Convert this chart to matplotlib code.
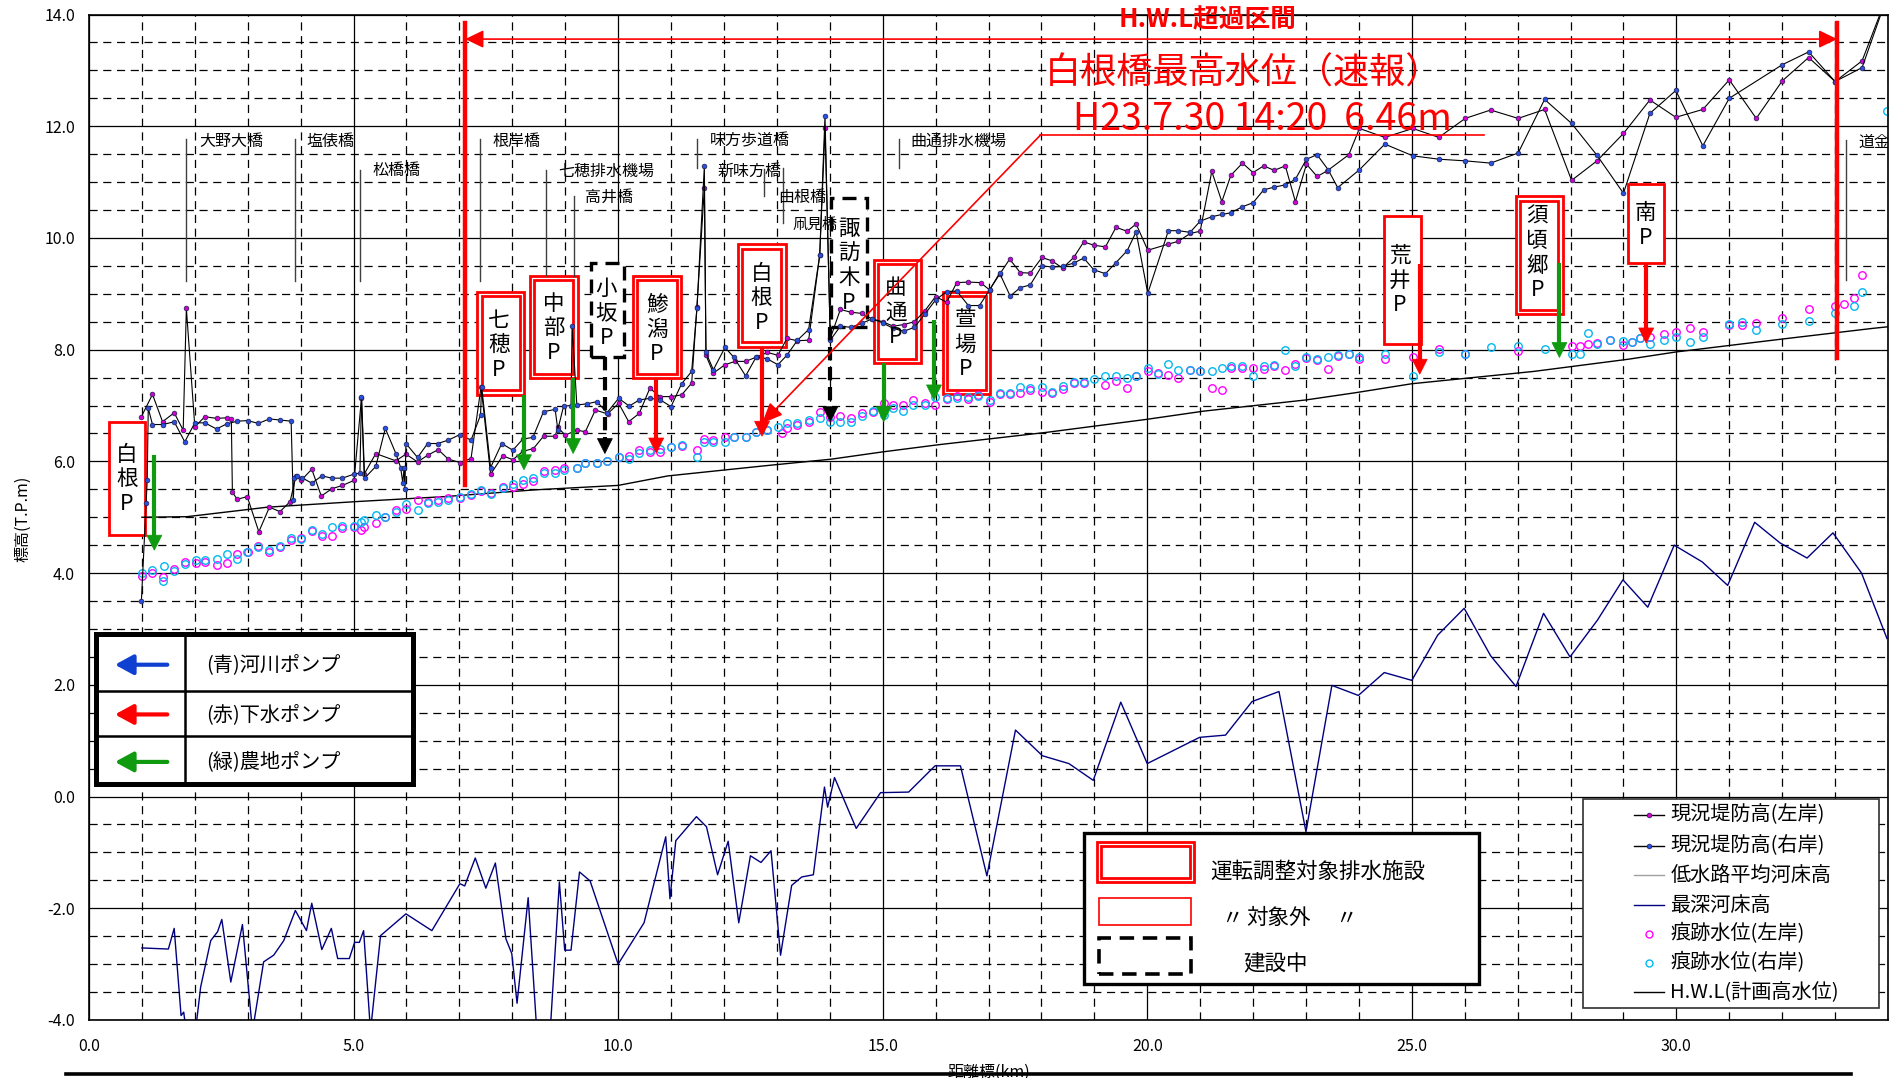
import matplotlib
matplotlib.use("Agg")
import matplotlib.pyplot as plt
from matplotlib.patches import Rectangle, Polygon
from matplotlib.lines import Line2D
import numpy as np

plt.rcParams['font.family'] = ['Noto Sans CJK JP', 'DejaVu Sans']
plt.rcParams['axes.unicode_minus'] = False

# ---------------- data ----------------
left_km = [0.99, 1.20, 1.39, 1.61, 1.78, 1.84, 2.00, 2.19, 2.41, 2.60, 2.69, 2.71, 2.80, 2.99, 3.21, 3.41,
           3.61, 3.80, 3.91, 4.01, 4.21, 4.39, 4.59, 4.79, 5.01, 5.15, 5.20, 5.42, 5.80, 5.99, 6.21, 6.40,
           6.60, 6.79, 7.01, 7.22, 7.41, 7.59, 7.82, 8.01, 8.20, 8.40, 8.59, 8.81, 8.86, 9.00, 9.22, 9.38,
           9.57, 9.80, 10.01, 10.20, 10.40, 10.60, 10.79, 11.00, 11.20, 11.39, 11.49, 11.63, 11.66, 11.80,
           12.02, 12.21, 12.41, 12.62, 12.82, 13.02, 13.19, 13.39, 13.60, 13.81, 13.91, 14.01, 14.20, 14.40,
           14.60, 14.80, 15.00, 15.20, 15.40, 15.60, 15.80, 16.00, 16.21, 16.40, 16.62, 16.85, 17.02, 17.21,
           17.40, 17.60, 17.79, 18.01, 18.20, 18.40, 18.61, 18.80, 18.99, 19.21, 19.41, 19.62, 19.79, 20.01,
           20.40, 20.59, 20.81, 21.00, 21.22, 21.41, 21.58, 21.80, 22.00, 22.20, 22.40, 22.61, 22.80, 23.01,
           23.21, 23.40, 23.81, 24.01, 24.49, 25.02, 25.51, 26.01, 26.49, 27.01, 27.51, 28.02, 28.50, 29.00,
           29.50, 29.99, 30.50, 31.00, 31.51, 32.00, 32.50, 33.00, 33.51, 34.05]
left_h = [6.80, 7.20, 6.71, 6.87, 6.56, 8.74, 6.62, 6.80, 6.77, 6.78, 6.75, 5.45, 5.32, 5.37, 4.74, 5.18,
          5.10, 5.28, 5.73, 5.66, 5.86, 5.38, 5.51, 5.57, 5.66, 7.14, 5.77, 6.14, 6.01, 6.13, 5.99, 6.11,
          6.21, 6.04, 5.98, 6.05, 7.34, 5.77, 6.10, 6.03, 6.18, 6.23, 6.45, 6.45, 6.61, 6.47, 6.56, 6.53,
          6.92, 6.85, 7.04, 6.71, 6.86, 7.31, 7.16, 7.16, 7.19, 7.40, 8.77, 10.90, 7.90, 7.58,
          7.73, 7.79, 7.79, 7.87, 7.95, 7.90, 8.20, 8.16, 8.17, 9.69, 11.96, 8.20, 8.72, 8.67,
          8.65, 8.55, 8.50, 8.42, 8.45, 8.50, 8.70, 8.95, 8.85, 9.20, 9.21, 9.20, 9.07, 9.35,
          9.62, 9.38, 9.37, 9.65, 9.59, 9.46, 9.65, 9.93, 9.87, 9.84, 10.19, 10.12, 10.25, 9.78,
          9.89, 9.94, 10.08, 10.12, 11.19, 10.65, 11.12, 11.34, 11.17, 11.29, 11.21, 11.29, 10.65, 11.32,
          11.10, 11.20, 11.49, 11.96, 11.80, 11.96, 11.80, 12.14, 12.29, 12.14, 12.30, 11.03, 11.38, 11.87,
          12.47, 12.16, 12.30, 12.83, 12.14, 12.81, 13.23, 12.80, 13.17, 14.50]

right_km = [0.99, 1.08, 1.10, 1.12, 1.20, 1.40, 1.61, 1.81, 2.00, 2.19, 2.41, 2.60, 2.80, 3.00, 3.20, 3.41,
            3.61, 3.82, 3.86, 3.88, 3.93, 4.02, 4.21, 4.40, 4.59, 4.79, 5.00, 5.12, 5.15, 5.21, 5.42, 5.60,
            5.80, 5.89, 5.93, 5.955, 5.97, 5.99, 6.21, 6.40, 6.59, 6.79, 7.01, 7.22, 7.40, 7.42, 7.59, 7.80,
            8.01, 8.20, 8.39, 8.59, 8.81, 8.86, 8.97, 9.11, 9.13, 9.22, 9.41, 9.60, 9.79, 10.01, 10.21, 10.40,
            10.61, 10.80, 11.00, 11.20, 11.39, 11.49, 11.63, 11.66, 11.80, 12.02, 12.19, 12.41, 12.61, 12.81,
            13.02, 13.19, 13.39, 13.60, 13.81, 13.91, 14.01, 14.20, 14.40, 14.60, 14.80, 15.00, 15.20, 15.40,
            15.60, 15.80, 16.00, 16.21, 16.40, 16.62, 16.83, 17.02, 17.21, 17.41, 17.60, 17.79, 18.01, 18.20,
            18.40, 18.61, 18.80, 18.99, 19.21, 19.41, 19.62, 19.79, 20.01, 20.40, 20.59, 20.81, 21.00, 21.22,
            21.41, 21.58, 21.80, 22.00, 22.20, 22.40, 22.61, 22.80, 23.01, 23.21, 23.42, 23.60, 24.01, 24.49,
            25.02, 25.51, 26.01, 26.49, 27.01, 27.51, 28.02, 28.50, 29.00, 29.50, 29.99, 30.50, 31.00, 32.00,
            32.50, 33.00, 33.51, 34.05]
right_h = [3.50, 5.25, 5.66, 6.95, 6.66, 6.66, 6.71, 6.35, 6.69, 6.69, 6.58, 6.67, 6.72, 6.73, 6.68, 6.76,
           6.74, 6.72, 5.30, 5.70, 5.73, 5.71, 5.61, 5.74, 5.70, 5.70, 5.77, 5.79, 7.16, 5.70, 5.91, 6.59,
           6.14, 5.89, 5.62, 5.89, 5.50, 6.32, 6.07, 6.32, 6.32, 6.38, 6.48, 6.38, 6.83, 7.34, 5.89, 6.32,
           6.20, 6.40, 6.43, 6.89, 6.93, 6.57, 6.99, 7.00, 8.42, 7.01, 7.03, 7.07, 6.87, 7.13, 6.99, 7.10,
           7.13, 7.10, 6.98, 7.39, 7.61, 8.74, 11.29, 7.95, 7.64, 8.04, 7.86, 7.53, 7.87, 7.84,
           7.73, 7.90, 8.17, 8.36, 9.69, 12.19, 8.17, 8.42, 8.40, 8.47, 8.55, 8.48, 8.38, 8.33,
           8.40, 8.64, 8.89, 9.04, 9.05, 8.79, 8.79, 9.07, 9.37, 8.96, 9.11, 9.16, 9.50, 9.48,
           9.49, 9.55, 9.64, 9.43, 9.36, 9.56, 9.77, 10.11, 9.01, 10.13, 10.13, 10.10, 10.30, 10.38,
           10.42, 10.45, 10.56, 10.63, 10.86, 10.91, 10.95, 11.05, 11.41, 11.49, 11.22, 10.90, 11.22, 11.68,
           11.47, 11.41, 11.38, 11.34, 11.52, 12.48, 12.05, 11.48, 10.80, 12.23, 12.64, 11.65, 12.50, 13.10,
           13.33, 12.80, 13.05, 14.50]

lowbed_km = []   # 低水路平均河床高 (not within visible range)
lowbed_h = []

deep_km = [1.00, 1.50, 1.61, 1.74, 1.79, 1.85, 2.00, 2.11, 2.30, 2.43, 2.51, 2.68, 2.90, 3.09, 3.30, 3.49,
           3.68, 3.90, 4.11, 4.21, 4.40, 4.58, 4.70, 4.92, 5.02, 5.11, 5.19, 5.32, 5.51, 5.99, 6.48, 7.01,
           7.10, 7.30, 7.50, 7.68, 7.88, 7.99, 8.09, 8.30, 8.47, 8.71, 8.89, 8.99, 9.11, 9.27, 9.47, 10.00,
           10.49, 10.90, 10.98, 11.09, 11.48, 11.67, 11.88, 12.08, 12.28, 12.50, 12.70, 12.89, 13.07, 13.28,
           13.47, 13.69, 13.90, 13.96, 14.09, 14.50, 14.96, 15.49, 15.99, 16.47, 16.97, 17.51, 18.02, 18.52,
           18.98, 19.50, 20.00, 20.99, 21.48, 21.98, 22.49, 23.00, 23.49, 23.99, 24.48, 25.00, 25.49, 25.99,
           26.49, 26.97, 27.49, 27.99, 28.51, 28.99, 29.46, 29.96, 30.49, 30.97, 31.48, 31.96, 32.47, 32.96,
           33.50, 33.98]
deep_h = [-2.71, -2.73, -2.36, -3.92, -3.86, -4.30, -4.30, -3.41, -2.58, -2.42, -2.20, -3.32, -2.29, -4.20,
          -2.96, -2.84, -2.58, -2.04, -2.40, -1.91, -2.74, -2.36, -2.90, -2.90, -2.61, -2.61, -2.40, -4.20,
          -2.49, -2.10, -2.40, -1.56, -1.60, -1.10, -1.64, -1.19, -2.55, -2.81, -3.70, -1.81, -4.30, -4.30,
          -1.53, -2.75, -2.75, -1.35, -1.51, -3.00, -2.26, -0.72, -1.83, -0.79, -0.36, -0.54, -1.40, -0.80,
          -2.26, -1.06, -1.18, -0.97, -2.84, -1.59, -1.44, -1.40, 0.17, -0.19, 0.34, -0.57, 0.07, 0.08,
          0.55, 0.55, -1.42, 1.19, 0.73, 0.59, 0.29, 1.69, 0.59, 1.06, 1.10, 1.70, 1.88, -0.63, 1.99,
          1.81, 2.22, 2.08, 2.89, 3.37, 2.52, 1.97, 3.28, 2.50, 3.16, 3.88, 3.39, 4.50, 4.20, 3.78, 4.91,
          4.54, 4.27, 4.72, 4.00, 2.83]

trace_l_km = [1.00, 1.20, 1.40, 1.61, 1.81, 2.02, 2.19, 2.41, 2.60, 2.80, 3.00, 3.20, 3.41, 3.61, 3.82, 4.01,
              4.21, 4.40, 4.59, 4.79, 5.00, 5.15, 5.20, 5.42, 5.60, 5.80, 5.99, 6.21, 6.40, 6.60, 6.79, 7.01,
              7.22, 7.40, 7.59, 7.82, 8.01, 8.21, 8.40, 8.59, 8.81, 8.97, 9.22, 9.38, 9.60, 9.79, 10.01, 10.20,
              10.40, 10.60, 10.79, 11.00, 11.20, 11.49, 11.63, 11.80, 12.02, 12.19, 12.41, 12.61, 12.81, 13.09,
              13.19, 13.39, 13.60, 13.81, 14.01, 14.20, 14.40, 14.61, 14.81, 15.02, 15.20, 15.39, 15.58, 15.80,
              15.99, 16.21, 16.40, 16.62, 16.81, 17.02, 17.21, 17.41, 17.60, 17.79, 18.01, 18.20, 18.40, 18.61,
              18.80, 19.21, 19.41, 19.62, 19.79, 20.01, 20.20, 20.40, 20.59, 20.81, 21.00, 21.22, 21.41, 21.58,
              21.80, 22.00, 22.20, 22.40, 22.61, 22.80, 23.01, 23.21, 23.42, 23.60, 23.81, 24.01, 24.49, 25.02,
              25.51, 26.01, 27.01, 28.02, 28.17, 28.33, 28.50, 28.75, 29.00, 29.16, 29.32, 29.50, 29.76, 29.99,
              30.25, 30.50, 31.00, 31.25, 31.51, 32.00, 32.50, 33.00, 33.17, 33.35, 33.51]
trace_l_h = [3.94, 4.00, 3.93, 4.07, 4.20, 4.18, 4.20, 4.15, 4.18, 4.35, 4.38, 4.49, 4.37, 4.47, 4.60, 4.62,
             4.75, 4.66, 4.66, 4.80, 4.82, 4.77, 4.83, 4.89, 5.01, 5.13, 5.14, 5.30, 5.28, 5.30, 5.34, 5.34,
             5.40, 5.47, 5.44, 5.54, 5.55, 5.60, 5.64, 5.82, 5.85, 5.89, 5.89, 5.98, 5.97, 6.00, 6.08, 6.10,
             6.20, 6.17, 6.16, 6.25, 6.27, 6.20, 6.40, 6.38, 6.44, 6.44, 6.44, 6.53, 6.56, 6.50,
             6.59, 6.65, 6.71, 6.89, 6.80, 6.81, 6.77, 6.86, 6.89, 7.04, 7.01, 7.01, 7.10, 7.05,
             7.01, 7.11, 7.17, 7.12, 7.18, 7.07, 7.20, 7.21, 7.22, 7.28, 7.25, 7.23, 7.29, 7.41,
             7.40, 7.37, 7.44, 7.31, 7.53, 7.62, 7.58, 7.55, 7.49, 7.64, 7.62, 7.32, 7.27, 7.67,
             7.68, 7.67, 7.66, 7.70, 7.64, 7.75, 7.85, 7.82, 7.65, 7.88, 7.92, 7.84, 7.83, 7.87,
             8.02, 7.92, 7.97, 8.06, 8.06, 8.11, 8.12, 8.17, 8.08, 8.14, 8.20, 8.23, 8.28, 8.32,
             8.38, 8.32, 8.44, 8.44, 8.48, 8.56, 8.72, 8.78, 8.81, 8.92, 9.34]

trace_r_km = [1.00, 1.20, 1.39, 1.42, 1.61, 1.81, 2.02, 2.19, 2.41, 2.60, 2.80, 2.99, 3.20, 3.41, 3.61, 3.82,
              4.01, 4.21, 4.40, 4.59, 4.79, 5.00, 5.15, 5.20, 5.42, 5.60, 5.80, 5.99, 6.21, 6.40, 6.60, 6.79,
              7.01, 7.22, 7.40, 7.59, 7.82, 8.01, 8.21, 8.40, 8.59, 8.81, 8.97, 9.22, 9.38, 9.60, 9.79, 10.01,
              10.20, 10.40, 10.60, 10.79, 11.00, 11.20, 11.49, 11.63, 11.80, 12.02, 12.19, 12.41, 12.61, 12.81,
              13.02, 13.19, 13.39, 13.60, 13.81, 14.01, 14.20, 14.40, 14.61, 14.81, 15.02, 15.20, 15.39, 15.58,
              15.80, 15.99, 16.21, 16.40, 16.62, 16.81, 17.02, 17.21, 17.41, 17.60, 17.79, 18.01, 18.20, 18.40,
              18.61, 18.80, 18.99, 19.21, 19.41, 19.62, 19.79, 20.01, 20.20, 20.40, 20.59, 20.81, 21.00, 21.22,
              21.41, 21.58, 21.80, 22.00, 22.20, 22.40, 22.61, 22.80, 23.01, 23.21, 23.42, 23.60, 23.81, 24.01,
              24.49, 25.02, 25.51, 26.01, 26.50, 27.01, 27.51, 28.02, 28.17, 28.33, 28.50, 28.75, 29.00, 29.16,
              29.32, 29.50, 29.76, 29.99, 30.25, 30.50, 31.00, 31.25, 31.51, 32.00, 32.50, 33.00, 33.35, 33.51,
              33.98]
trace_r_h = [4.00, 4.06, 3.85, 4.13, 4.04, 4.17, 4.24, 4.24, 4.26, 4.34, 4.26, 4.37, 4.46, 4.41, 4.49, 4.62,
             4.61, 4.77, 4.70, 4.83, 4.84, 4.84, 4.92, 4.95, 5.04, 5.01, 5.10, 5.24, 5.13, 5.26, 5.28, 5.31,
             5.37, 5.42, 5.49, 5.42, 5.52, 5.60, 5.67, 5.70, 5.80, 5.80, 5.85, 5.89, 5.97, 5.97, 6.01, 6.08,
             6.04, 6.15, 6.20, 6.22, 6.25, 6.29, 6.08, 6.35, 6.35, 6.35, 6.44, 6.44, 6.53, 6.56,
             6.61, 6.68, 6.69, 6.74, 6.77, 6.71, 6.71, 6.71, 6.81, 6.91, 6.83, 6.95, 6.91, 7.01,
             7.01, 7.16, 7.13, 7.13, 7.15, 7.17, 7.10, 7.22, 7.22, 7.34, 7.31, 7.34, 7.25, 7.35,
             7.43, 7.43, 7.47, 7.52, 7.52, 7.49, 7.53, 7.68, 7.56, 7.75, 7.64, 7.64, 7.62, 7.62,
             7.67, 7.71, 7.71, 7.52, 7.70, 7.72, 7.99, 7.71, 7.86, 7.84, 7.87, 7.90, 7.93, 7.86,
             7.93, 7.53, 7.96, 7.93, 8.04, 8.07, 8.02, 7.92, 7.92, 8.29, 8.11, 8.18, 8.16, 8.13,
             8.20, 8.11, 8.18, 8.23, 8.14, 8.23, 8.46, 8.50, 8.35, 8.46, 8.52, 8.65, 8.78, 9.03,
             12.27]

hwl_km = [1.00, 1.85, 3.37, 5.05, 6.73, 8.42, 10.00, 10.94, 12.76, 14.03, 15.00, 16.07, 18.10, 19.97,
          21.07, 23.00, 23.94, 25.00, 27.30, 29.10, 30.00, 32.00, 33.70, 34.00]
hwl_h = [5.00, 5.01, 5.18, 5.28, 5.37, 5.49, 5.57, 5.74, 5.92, 6.04, 6.17, 6.30, 6.52, 6.75,
         6.90, 7.10, 7.23, 7.39, 7.61, 7.83, 7.96, 8.19, 8.38, 8.41]

series_labels = ['現況堤防高(左岸)', '現況堤防高(右岸)', '低水路平均河床高', '最深河床高',
                 '痕跡水位(左岸)', '痕跡水位(右岸)', 'H.W.L(計画高水位)']

xtick_vals = [0, 5, 10, 15, 20, 25, 30]
ytick_vals = [-4, -2, 0, 2, 4, 6, 8, 10, 12, 14]

# bridges: name, label x, label y, line x, line bottom, line top
bridge_names = ['大野大橋', '塩俵橋', '松橋橋', '根岸橋', '七穂排水機場', '高井橋', '味方歩道橋',
                '新味方橋', '由根橋', '凧見橋', '曲通排水機場', '道金']
bridge_tx = [2.08, 4.11, 5.36, 7.63, 8.87, 9.38, 11.73, 11.87, 13.02, 13.30, 15.53, 33.44]
bridge_ty = [11.73, 11.73, 11.20, 11.73, 11.20, 10.72, 11.73, 11.20, 10.72, 10.23, 11.73, 11.72]
bridge_fs = [11.5, 11.5, 11.5, 11.5, 11.5, 11.5, 11.5, 11.5, 11.5, 10.8, 11.5, 11.5]
bridge_lx = [1.835, 3.89, 5.13, 7.39, 8.64, 9.16, 11.50, 12.76, 13.12, None, 15.30, 33.21]
bridge_l0 = [9.23, 9.23, 9.23, 9.23, 9.33, 9.32, 11.25, 10.75, 10.26, None, 11.25, 9.25]
bridge_l1 = [11.77, 11.77, 11.22, 11.77, 11.22, 10.75, 11.77, 11.23, 11.25, None, 11.77, 11.75]

# pump stations
pump_names = ['白根P', '七穂P', '中部P', '小坂P', '鯵潟P', '白根P', '諏訪木P', '曲通P', '萱場P',
              '荒井P', '須頃郷P', '南P']
pump_kind = ['out', 'adj', 'adj', 'con', 'adj', 'adj', 'con', 'adj', 'adj', 'out', 'adj', 'out']
pump_x0 = [0.38, 7.34, 8.33, 9.48, 10.28, 12.26, 14.02, 14.83, 16.14, 24.48, 26.96, 29.09]
pump_x1 = [1.06, 8.23, 9.24, 10.11, 11.19, 13.17, 14.70, 15.72, 17.03, 25.18, 27.85, 29.76]
pump_y0 = [4.68, 7.19, 7.49, 7.86, 7.49, 8.05, 8.40, 7.76, 7.20, 8.10, 8.63, 9.55]
pump_y1 = [6.70, 9.04, 9.32, 9.55, 9.32, 9.89, 10.71, 9.61, 9.04, 10.40, 10.75, 10.96]
pump_tx = [0.72, 7.75, 8.78, 9.78, 10.73, 12.71, 14.36, 15.25, 16.56, 24.77, 27.37, 29.42]
pump_ty = [5.68, 8.08, 8.38, 8.64, 8.36, 8.92, 9.50, 8.66, 8.09, 9.24, 9.72, 10.22]
arrow_x = [1.235, 8.22, 9.15, 9.75, 10.72, 12.72, 14.01, 15.02, 15.97, 25.15, 27.79, 29.43]
arrow_y0 = [6.11, 7.19, 7.49, 7.86, 7.49, 8.05, 8.40, 7.76, 8.53, 9.53, 9.55, 9.55]
arrow_y1 = [4.41, 5.85, 6.14, 6.14, 6.15, 6.45, 6.71, 6.71, 7.10, 7.56, 7.86, 8.12]
arrow_col = ['green', 'green', 'green', 'black', 'red', 'red', 'black', 'green', 'green',
             'red', 'green', 'red']

pump_legend_labels = ['(青)河川ポンプ', '(赤)下水ポンプ', '(緑)農地ポンプ']
facility_legend_labels = ['運転調整対象排水施設', '対象外', '建設中']

peak_title = '白根橋最高水位（速報）'
peak_text = 'H23.7.30 14:20  6.46m'
peak_km, peak_level = 12.72, 6.68
hwl_section = (7.11, 33.04)

# ---------------- figure ----------------
W, H = 1892, 1078
fig = plt.figure(figsize=(W / 100, H / 100), dpi=100)
fig.patch.set_facecolor('white')
ax = fig.add_axes([89 / W, 1 - 1020 / H, 1799 / W, 1005.5 / H])
ax.set_xlim(0, 34.0)
ax.set_ylim(-4, 14)

PX_X = 34.0 / 1799.0      # km per pixel
PX_Y = 18.0 / 1005.5      # m per pixel

ax.set_xticks(xtick_vals)
ax.set_xticklabels([f'{v:.1f}' for v in xtick_vals], fontsize=11.5)
ax.set_yticks(ytick_vals)
ax.set_yticklabels([f'{v:.1f}' for v in ytick_vals], fontsize=11.5)
ax.set_xticks(np.arange(0, 35, 1), minor=True)
ax.set_yticks(np.arange(-4, 14.01, 0.5), minor=True)
ax.tick_params(which='both', length=0)
ax.tick_params(axis='x', pad=13)
ax.tick_params(axis='y', pad=10)
ax.set_axisbelow(True)
ax.grid(which='major', color='black', lw=0.9, ls='-')
ax.grid(which='minor', color='black', lw=0.9, ls=(0, (6.5, 4.5)))
for s in ax.spines.values():
    s.set_color('black')
    s.set_linewidth(1.2)

# ---------------- series ----------------
ax.plot(left_km, left_h, '-', color='black', lw=0.8, marker='o', ms=3.4, mfc='#D000D0',
        mec='#202050', mew=0.5, zorder=2.2)
ax.plot(right_km, right_h, '-', color='black', lw=0.8, marker='o', ms=3.4, mfc='#2A50E0',
        mec='#202050', mew=0.5, zorder=2.2)
ax.plot(lowbed_km, lowbed_h, color='#A0A0A0', lw=1.0, zorder=2)
ax.plot(deep_km, deep_h, color='#000080', lw=1.0, zorder=2)
ax.plot(trace_l_km, trace_l_h, ls='none', marker='o', ms=5.4, mfc='none', mec='#FF00FF', mew=1.0, zorder=2.1)
ax.plot(trace_r_km, trace_r_h, ls='none', marker='o', ms=5.4, mfc='none', mec='#00B8F0', mew=1.0, zorder=2.1)
ax.plot(hwl_km, hwl_h, color='black', lw=1.0, zorder=2)

# ---------------- bridges ----------------
for name, tx, ty, fs, lx, l0, l1 in zip(bridge_names, bridge_tx, bridge_ty, bridge_fs,
                                        bridge_lx, bridge_l0, bridge_l1):
    if lx is not None:
        ax.plot([lx, lx], [l0, l1], color='#404040', lw=1.0, zorder=1.8)
    ax.text(tx, ty, name, fontsize=fs, ha='left', va='center', zorder=2.6, clip_on=True)

# ---------------- pump boxes ----------------
dx_in, dy_in = 4.5 * PX_X, 4.5 * PX_Y
for name, kind, x0, x1, y0, y1, tx, ty in zip(pump_names, pump_kind, pump_x0, pump_x1,
                                              pump_y0, pump_y1, pump_tx, pump_ty):
    if kind == 'con':
        ax.add_patch(Rectangle((x0, y0), x1 - x0, y1 - y0, fc='white', ec='black', lw=2.4,
                               ls=(0, (4.2, 2.4)), zorder=1.5))
    else:
        ax.add_patch(Rectangle((x0, y0), x1 - x0, y1 - y0, fc='white', ec='red', lw=2.0, zorder=1.5))
        if kind == 'adj':
            ax.add_patch(Rectangle((x0 + dx_in, y0 + dy_in), x1 - x0 - 2 * dx_in, y1 - y0 - 2 * dy_in,
                                   fill=False, ec='red', lw=2.0, zorder=1.55))
    ax.text(tx, ty, '\n'.join(list(name)), fontsize=15.5, ha='center', va='center',
            linespacing=1.15, zorder=2.5)

head_w, head_l = 15 * PX_X, 15 * PX_Y
col_map = {'green': '#109A10', 'red': '#FF0000', 'black': '#000000'}
for x, y0, y1, c in zip(arrow_x, arrow_y0, arrow_y1, arrow_col):
    cc = col_map[c]
    ls = (0, (3.2, 1.6)) if c == 'black' else '-'
    ax.plot([x, x], [y0, y1 + head_l * 0.9], color=cc, lw=3.0, ls=ls, solid_capstyle='butt', zorder=3)
    ax.add_patch(Polygon([[x - head_w / 2, y1 + head_l], [x + head_w / 2, y1 + head_l], [x, y1]],
                         closed=True, fc=cc, ec=cc, lw=0.5, zorder=3))

# ---------------- HWL exceed section ----------------
xa, xb = hwl_section
ax.plot([xa, xa], [5.57, 13.84], color='red', lw=3.2, zorder=3.2)
ax.plot([xb, xb], [7.85, 13.84], color='red', lw=3.2, zorder=3.2)
ax.annotate('', xy=(xa, 13.56), xytext=(xb, 13.56),
            arrowprops=dict(arrowstyle='<|-|>,head_length=0.62,head_width=0.3', color='red', lw=1.2,
                            mutation_scale=18, shrinkA=0, shrinkB=0), zorder=3.2)
ax.text(21.15, 13.90, 'H.W.L超過区間', color='red', fontsize=18.5, fontweight='bold', ha='center',
        va='center', clip_on=False, zorder=4)

# ---------------- peak water level note ----------------
ax.text(18.07, 12.95, peak_title, color='red', fontsize=26, ha='left', va='center', zorder=4)
ax.text(18.60, 12.12, peak_text, color='red', fontsize=27, ha='left', va='center', zorder=4)
ax.plot([17.98, 26.36], [11.84, 11.84], color='red', lw=1.2, zorder=3.5)
ax.annotate('', xy=(peak_km, peak_level), xytext=(17.98, 11.84),
            arrowprops=dict(arrowstyle='-|>,head_length=0.7,head_width=0.3', color='red', lw=1.2,
                            mutation_scale=18, shrinkA=0, shrinkB=0), zorder=3.5)

# ---------------- pump colour legend ----------------
ax.add_patch(Rectangle((0.13, 0.22), 5.99, 2.69, fc='white', ec='black', lw=3.6, zorder=5))
ax.plot([1.82, 1.82], [0.22, 2.91], color='black', lw=1.8, zorder=5.1)
ax.plot([0.13, 6.12], [1.89, 1.89], color='black', lw=1.8, zorder=5.1)
ax.plot([0.13, 6.12], [1.08, 1.08], color='black', lw=1.8, zorder=5.1)
for lab, yy, cc in zip(pump_legend_labels, [2.36, 1.47, 0.62], ['#1040D0', '#FF0000', '#109A10']):
    ax.annotate('', xy=(0.49, yy), xytext=(1.48, yy),
                arrowprops=dict(arrowstyle='-|>,head_length=0.55,head_width=0.3', color=cc, lw=3.0,
                                mutation_scale=20, shrinkA=0, shrinkB=0), zorder=5.2)
    ax.text(2.22, yy, lab, fontsize=14.5, ha='left', va='center', zorder=5.2)

# ---------------- facility legend ----------------
ax.add_patch(Rectangle((18.81, -3.36), 7.46, 2.70, fc='white', ec='black', lw=2.4, zorder=5))
ax.add_patch(Rectangle((19.05, -1.53), 1.84, 0.72, fill=False, ec='red', lw=2.0, zorder=5.1))
ax.add_patch(Rectangle((19.05 + dx_in, -1.53 + dy_in), 1.84 - 2 * dx_in, 0.72 - 2 * dy_in,
                       fill=False, ec='red', lw=2.0, zorder=5.1))
ax.add_patch(Rectangle((19.09, -2.30), 1.74, 0.49, fill=False, ec='red', lw=1.2, zorder=5.1))
ax.add_patch(Rectangle((19.09, -3.17), 1.74, 0.63, fill=False, ec='black', lw=2.6,
                       ls=(0, (4.0, 2.4)), zorder=5.1))
ax.text(21.19, -1.35, facility_legend_labels[0], fontsize=15.5, ha='left', va='center', zorder=5.2)
ax.text(21.39, -2.18, '〃', fontsize=15.5, ha='left', va='center', zorder=5.2)
ax.text(21.87, -2.18, facility_legend_labels[1], fontsize=15.5, ha='left', va='center', zorder=5.2)
ax.text(23.55, -2.18, '〃', fontsize=15.5, ha='left', va='center', zorder=5.2)
ax.text(21.82, -2.98, facility_legend_labels[2], fontsize=15.5, ha='left', va='center', zorder=5.2)

# ---------------- series legend (axes fraction) ----------------
ax.add_patch(Rectangle((0.8306, 0.0120), 0.1642, 0.2074, transform=ax.transAxes, fc='white',
                       ec='#303030', lw=1.2, zorder=5))
row_y = [0.2039, 0.1734, 0.1441, 0.1143, 0.0860, 0.0568, 0.0274]
hx0, hx1, hxm, tx = 0.8587, 0.8754, 0.8670, 0.8790
styles = [
    dict(line='black', mk='#D000D0', open=False),
    dict(line='black', mk='#2A50E0', open=False),
    dict(line='#A0A0A0', mk=None, open=False),
    dict(line='#000080', mk=None, open=False),
    dict(line=None, mk='#FF00FF', open=True),
    dict(line=None, mk='#00B8F0', open=True),
    dict(line='black', mk=None, open=False),
]
for lab, yy, st in zip(series_labels, row_y, styles):
    if st['line'] is not None:
        ax.add_line(Line2D([hx0, hx1], [yy, yy], transform=ax.transAxes, color=st['line'], lw=1.0, zorder=5.1))
    if st['mk'] is not None:
        if st['open']:
            ax.add_line(Line2D([hxm], [yy], transform=ax.transAxes, ls='none', marker='o', ms=5,
                               mfc='none', mec=st['mk'], mew=1.0, zorder=5.2))
        else:
            ax.add_line(Line2D([hxm], [yy], transform=ax.transAxes, ls='none', marker='o', ms=3.4,
                               mfc=st['mk'], mec='#202050', mew=0.5, zorder=5.2))
    ax.text(tx, yy, lab, transform=ax.transAxes, fontsize=14.5, ha='left', va='center', zorder=5.2)

# ---------------- axis labels & bottom rule ----------------
fig.text(23 / W, 1 - 519 / H, '標高(T.P.m)', rotation=90, fontsize=11.5, ha='center', va='center')
fig.text(989 / W, 1 - 1072 / H, '距離標(km)', fontsize=11.5, ha='center', va='center')
fig.add_artist(Line2D([66 / W, 1851 / W], [1 - 1073.5 / H, 1 - 1073.5 / H], color='black', lw=2.6))

fig.savefig('out.png', dpi=100, facecolor='white')
